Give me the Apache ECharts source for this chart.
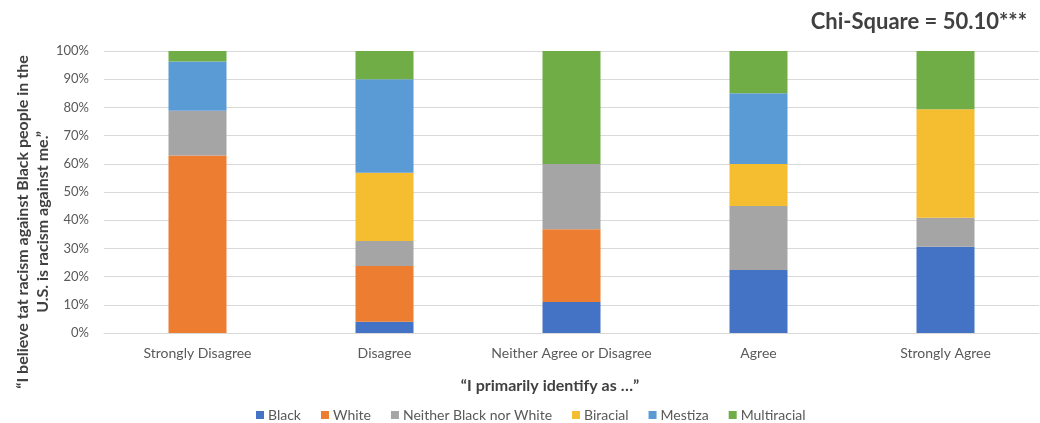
<!DOCTYPE html>
<html>
<head>
<meta charset="utf-8">
<script src="https://cdn.jsdelivr.net/npm/echarts@6/dist/echarts.min.js"></script>
<style>
  html, body { margin: 0; padding: 0; background: #fff; }
  #chart { width: 1040px; height: 423px; }
</style>
</head>
<body>
<div id="chart"></div>
<script>
const categories = ["Strongly Disagree", "Disagree", "Neither Agree or Disagree", "Agree", "Strongly Agree"];
const black = [0, 4.0, 11.0, 22.3, 30.6];
const white = [62.9, 19.8, 25.8, 0, 0];
const neither = [15.9, 8.8, 23.1, 22.7, 10.3];
const biracial = [0, 24.2, 0, 14.9, 38.4];
const mestiza = [17.5, 33.2, 0, 25.1, 0];
const multiracial = [3.7, 10.0, 40.1, 15.0, 20.7];
const yTicks = [0, 10, 20, 30, 40, 50, 60, 70, 80, 90, 100];

const font = "Lato, 'Open Sans', sans-serif";
const txt = "#595959";

const chart = echarts.init(document.getElementById("chart"), null, { renderer: "canvas" });

function bar(name, data, color) {
  return {
    name, type: "bar", stack: "all", data, barWidth: 58,
    itemStyle: { color },
    emphasis: { disabled: true },
  };
}

chart.setOption({
  animation: false,
  textStyle: { fontFamily: font },
  grid: { left: 104, right: 1, top: 51, bottom: 90 },
  xAxis: {
    type: "category",
    data: categories,
    axisTick: { show: false },
    axisLine: { lineStyle: { color: "#d9d9d9", width: 1 } },
    axisLabel: { color: txt, fontSize: 14, margin: 13, interval: 0, fontFamily: font },
  },
  yAxis: {
    type: "value",
    min: yTicks[0],
    max: yTicks[yTicks.length - 1],
    interval: 10,
    axisLine: { show: false },
    axisTick: { show: false },
    splitLine: { lineStyle: { color: "#d9d9d9", width: 1 } },
    axisLabel: { color: txt, fontSize: 13, margin: 15, formatter: "{value}%", fontFamily: font },
  },
  legend: {
    top: 408,
    left: 256,
    padding: 0,
    itemWidth: 8,
    itemHeight: 8,
    itemGap: 20,
    icon: "rect",
    textStyle: { color: txt, fontSize: 14, fontFamily: font, padding: [0, 0, 0, -1] },
    data: ["Black", "White", "Neither Black nor White", "Biracial", "Mestiza", "Multiracial"],
  },
  graphic: [
    {
      type: "text", x: 1027, y: 22,
      style: {
        text: "Chi-Square = 50.10***", fill: "#404040", font: "bold 22px " + font,
        align: "right", verticalAlign: "middle",
      },
    },
    {
      type: "text", x: 550, y: 386,
      style: {
        text: "\u201cI primarily identify as \u2026\u201d", fill: "#404040", font: "bold 16px " + font,
        align: "center", verticalAlign: "middle",
      },
    },
    {
      type: "text", x: 33, y: 222, rotation: Math.PI / 2,
      style: {
        text: "\u201cI believe tat racism against Black people in the\nU.S. is racism against me.\u201d",
        fill: "#404040", font: "bold 16px " + font, align: "center", verticalAlign: "middle", lineHeight: 20,
      },
    },
  ],
  series: [
    bar("Black", black, "#4472c4"),
    bar("White", white, "#ed7d31"),
    bar("Neither Black nor White", neither, "#a5a5a5"),
    bar("Biracial", biracial, "#f5be30"),
    bar("Mestiza", mestiza, "#5b9bd5"),
    bar("Multiracial", multiracial, "#70ad47"),
  ],
});
</script>
</body>
</html>
